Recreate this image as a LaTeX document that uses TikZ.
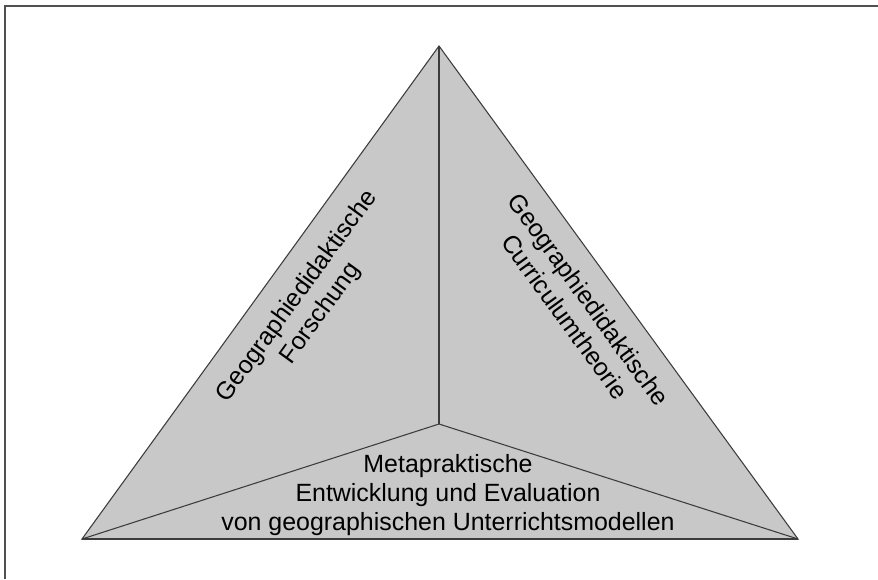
\documentclass[tikz,border=0pt]{standalone}
\usepackage{fontspec}
\setmainfont{Liberation Sans}
\usetikzlibrary{arrows}

\definecolor{triFill}{RGB}{200,200,200}
\definecolor{triLine}{RGB}{60,60,60}
\definecolor{frameLine}{RGB}{80,80,80}

\tikzset{
  areaText/.style={align=center, inner sep=0.75pt, text=black,
    font=\fontsize{18.7}{21.9}\selectfont},
  edgeLine/.style={draw=triLine, line width=0.8pt, line join=miter}
}

\begin{document}
\begin{tikzpicture}[x=0.75pt,y=0.75pt,yscale=-1,xscale=1]
\useasboundingbox (0,0) rectangle (878,579);

%Shape: Frame
\draw [frameLine, line width=1.5pt] (4.5,579) -- (4.5,5.5) -- (878,5.5) ;

%Shape: Triangle corners
\coordinate (apex) at (439,46);
\coordinate (left) at (82,539);
\coordinate (right) at (798,539);
\coordinate (mid) at (439,424);

%Shape: Triangle
\draw [edgeLine, fill=triFill] (apex) -- (right) -- (left) -- cycle ;
%Straight Lines
\draw [edgeLine] (mid) -- (apex) ;
\draw [edgeLine] (mid) -- (left) ;
\draw [edgeLine] (mid) -- (right) ;
%Bottom edge
\draw [triLine, line width=1.4pt] (left) -- (right) ;

% Text Node
\node (forschung) [areaText, rotate=54] at (309,305) {Geographiedidaktische\\Forschung};
% Text Node
\node (curriculum) [areaText, rotate=-54] at (577,308) {Geographiedidaktische\\Curriculumtheorie};
% Text Node
\node (metapraxis) [areaText] at (448,495) {Metapraktische\\Entwicklung und Evaluation\\von geographischen Unterrichtsmodellen};

\end{tikzpicture}
\end{document}
